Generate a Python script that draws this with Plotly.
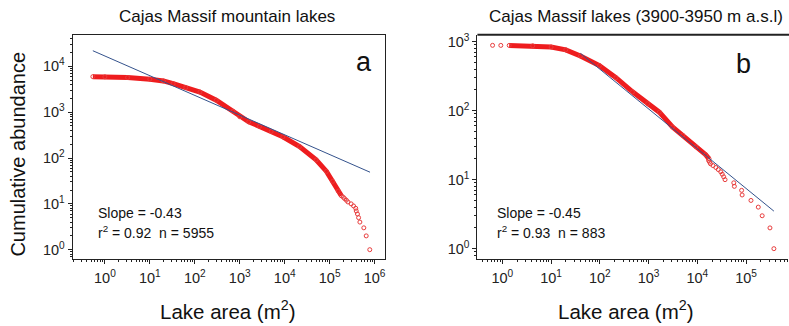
import plotly.graph_objects as go

# ---------------- data ----------------
a_band_area = [0.54, 1, 3.2, 10, 20, 33, 63, 130, 300, 708, 1000, 1585, 2750, 5000, 9100, 21400, 50000, 85000, 117000, 155000, 182000]
a_band_cum = [5955, 5900, 5700, 5250, 4800, 4200, 3450, 2750, 1820, 1050, 795, 617, 490, 380, 290, 178, 91, 51, 31, 19, 15]
a_tail_area = [780000, 650000, 575000, 470000, 440000, 415000, 390000, 380000, 340000, 300000, 255000, 235000, 215000, 200000]
a_tail_cum = [1, 2, 3, 4, 5, 6, 7, 8, 9, 10, 11, 12, 13, 14]
a_fit_area = [0.54, 790000]
a_fit_cum = [21900, 49]

b_start_area = [0.63, 0.93]
b_start_cum = [883, 882]
b_band_area = [1.38, 4.2, 10, 20, 40, 98, 214, 468, 955, 1660, 3090, 5010, 9330, 14800, 17400]
b_band_cum = [880, 870, 835, 760, 620, 450, 300, 187, 126, 95, 58, 44, 30, 23, 20]
b_tail_area = [372000, 309000, 214000, 178000, 126000, 83000, 81000, 57500, 56000, 37000, 34700, 32400, 30200, 26900, 24000, 20900, 18600, 17800, 17000]
b_tail_cum = [1, 2, 3, 4, 5, 6, 7, 8, 9, 10, 11, 12, 13, 14, 15, 16, 17, 18, 19]
b_fit_area = [40, 372000]
b_fit_cum = [676, 3.5]

a_xticks = [1, 10, 100, 1000, 10000, 100000, 1000000]
a_xlabels = ["10<sup>0</sup>", "10<sup>1</sup>", "10<sup>2</sup>", "10<sup>3</sup>", "10<sup>4</sup>", "10<sup>5</sup>", "10<sup>6</sup>"]
a_yticks = [1, 10, 100, 1000, 10000]
a_ylabels = ["10<sup>0</sup>", "10<sup>1</sup>", "10<sup>2</sup>", "10<sup>3</sup>", "10<sup>4</sup>"]
b_xticks = [1, 10, 100, 1000, 10000, 100000]
b_xlabels = ["10<sup>0</sup>", "10<sup>1</sup>", "10<sup>2</sup>", "10<sup>3</sup>", "10<sup>4</sup>", "10<sup>5</sup>"]
b_yticks = [1, 10, 100, 1000]
b_ylabels = ["10<sup>0</sup>", "10<sup>1</sup>", "10<sup>2</sup>", "10<sup>3</sup>"]

# ---------------- styling ----------------
W, H = 789, 326
FONT = "Liberation Sans, Arial, sans-serif"
RED = "rgb(238,28,30)"
RED_MK = "rgb(232,60,60)"
BLUE = "rgb(52,82,140)"
AX = "#222222"

def px_x(p):
    return p / W

def px_y(p):
    return 1 - p / H

fig = go.Figure()

mk = dict(symbol="circle-open", size=4, color=RED_MK, line=dict(width=1))

# panel a
fig.add_trace(go.Scatter(x=a_band_area, y=a_band_cum, mode="lines+markers",
                         line=dict(color=RED, width=5), marker=mk,
                         xaxis="x", yaxis="y", showlegend=False))
fig.add_trace(go.Scatter(x=a_tail_area, y=a_tail_cum, mode="markers", marker=mk,
                         xaxis="x", yaxis="y", showlegend=False))
fig.add_trace(go.Scatter(x=a_fit_area, y=a_fit_cum, mode="lines",
                         line=dict(color=BLUE, width=1),
                         xaxis="x", yaxis="y", showlegend=False))

# panel b
fig.add_trace(go.Scatter(x=b_start_area, y=b_start_cum, mode="markers", marker=mk,
                         xaxis="x2", yaxis="y2", showlegend=False))
fig.add_trace(go.Scatter(x=b_band_area, y=b_band_cum, mode="lines+markers",
                         line=dict(color=RED, width=5), marker=mk,
                         xaxis="x2", yaxis="y2", showlegend=False))
fig.add_trace(go.Scatter(x=b_tail_area, y=b_tail_cum, mode="markers", marker=mk,
                         xaxis="x2", yaxis="y2", showlegend=False))
fig.add_trace(go.Scatter(x=b_fit_area, y=b_fit_cum, mode="lines",
                         line=dict(color=BLUE, width=1),
                         xaxis="x2", yaxis="y2", showlegend=False))

tickfont = dict(family=FONT, size=14.5, color="#222222")
minor = dict(ticks="outside", ticklen=2, tickcolor=AX, tickwidth=1, dtick="D1", showgrid=False)

def axis(domain, rng, tv, tt, anchor, mirror):
    return dict(type="log", domain=domain, range=rng, tickmode="array", tickvals=tv, ticktext=tt,
                ticks="outside", ticklen=4, tickwidth=1, tickcolor=AX, tickfont=tickfont,
                showline=True, linecolor=AX, linewidth=1, mirror=mirror, showgrid=False,
                zeroline=False, anchor=anchor, minor=minor)

ydom = [px_y(258), px_y(32)]
fig.update_layout(
    width=W, height=H, margin=dict(l=0, r=0, t=0, b=0),
    paper_bgcolor="white", plot_bgcolor="white",
    xaxis=axis([px_x(72.7), px_x(385)], [-0.718, 6.22], a_xticks, a_xlabels, "y", True),
    yaxis=axis(ydom, [-0.195, 4.69], a_yticks, a_ylabels, "x", True),
    xaxis2=axis([px_x(478), 1.0], [-0.512, 5.86], b_xticks, b_xlabels, "y2", False),
    yaxis2=axis(ydom, [-0.144, 3.10], b_yticks, b_ylabels, "x2", False),
)
fig.update_xaxes(ticklabelstandoff=2)

# thicker top border of panel b
fig.add_shape(type="line", xref="x2 domain", yref="y2 domain", x0=0, x1=1.05, y0=1, y1=1,
              line=dict(color=AX, width=2))

def ann(text, x, y, size, xanchor="center", **kw):
    d = dict(text=text, x=px_x(x), y=px_y(y), xref="paper", yref="paper", showarrow=False,
             xanchor=xanchor, yanchor="middle",
             font=dict(family=FONT, size=size, color="#111111"))
    d.update(kw)
    fig.add_annotation(**d)

ann("Cajas Massif mountain lakes", 227, 14, 17)
ann("Cajas Massif lakes (3900-3950 m a.s.l)", 488, 14, 17, xanchor="left")
ann("Cumulative abundance", 18, 152, 20, textangle=-90)
ann("Lake area (m<sup>2</sup>)", 228, 310, 20.5)
ann("Lake area (m<sup>2</sup>)", 627, 310, 20.5)
ann("a", 364, 60, 27)
ann("b", 744, 62, 27)
ann("Slope = -0.43", 96, 212, 14, xanchor="left")
ann("r<sup>2</sup> = 0.92  n = 5955", 96, 231, 14, xanchor="left")
ann("Slope = -0.45", 496, 212, 14, xanchor="left")
ann("r<sup>2</sup> = 0.93  n = 883", 496, 231, 14, xanchor="left")

fig.write_html("out.html")
